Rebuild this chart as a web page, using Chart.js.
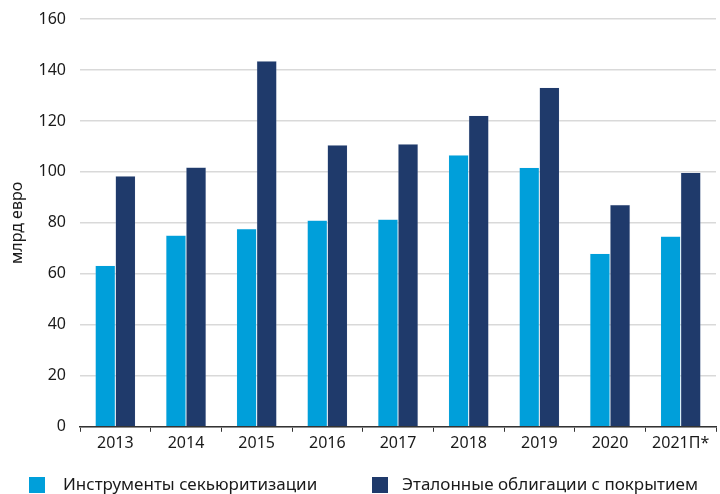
<!DOCTYPE html>
<html>
<head>
<meta charset="utf-8">
<script src="https://cdn.jsdelivr.net/npm/chart.js@4.4.1/dist/chart.umd.min.js"></script>
<style>
  html, body { margin: 0; padding: 0; background: #fff; }
  #wrap { position: relative; width: 720px; height: 494px; }
  #c { position: absolute; left: 0; top: 0; }
  .lg { position: absolute; top: 474px; font-family: "Noto Sans", "Open Sans", sans-serif; font-size: 17px; color: #1a1a1a; white-space: nowrap; line-height: 22px; }
  .lg i { position: absolute; left: 0; top: 3px; width: 16px; height: 16px; }
  .lg span { position: absolute; top: -1px; }
</style>
</head>
<body>
<div id="wrap">
  <canvas id="c" width="720" height="494"></canvas>
  <div class="lg" id="lg1" style="left:29px;"><i></i><span style="left:34px;"></span></div>
  <div class="lg" id="lg2" style="left:372px;"><i></i><span style="left:30px;"></span></div>
</div>
<script>
const categories = ["2013", "2014", "2015", "2016", "2017", "2018", "2019", "2020", "2021П*"];
const seriesNames = ["Инструменты секьюритизации", "Эталонные облигации с покрытием"];
const securitisation = [63.3, 75.2, 77.7, 81.0, 81.4, 106.6, 101.7, 68.0, 74.8];
const coveredBonds = [98.4, 101.8, 143.5, 110.6, 111.0, 122.1, 133.1, 87.1, 99.8];
const yTicks = [0, 20, 40, 60, 80, 100, 120, 140, 160];
const yTitle = "млрд евро";
const colors = ["#009fda", "#1f3a6b"];

const lg = [document.getElementById("lg1"), document.getElementById("lg2")];
lg.forEach((el, i) => {
  el.querySelector("i").style.background = colors[i];
  el.querySelector("span").textContent = seriesNames[i];
});

const font = { family: '"Noto Sans", "Open Sans", sans-serif', size: 16 };

new Chart(document.getElementById("c"), {
  type: "bar",
  data: {
    labels: categories,
    datasets: [
      { label: seriesNames[0], data: securitisation, backgroundColor: colors[0], borderColor: "rgba(200,225,245,0.5)", borderWidth: 0.5, categoryPercentage: 0.57, barPercentage: 1 },
      { label: seriesNames[1], data: coveredBonds, backgroundColor: colors[1], borderColor: "rgba(200,210,230,0.5)", borderWidth: 0.5, categoryPercentage: 0.57, barPercentage: 1 }
    ]
  },
  options: {
    responsive: false,
    animation: false,
    layout: { padding: { top: 19, right: 4, bottom: 39, left: 0 } },
    plugins: { legend: { display: false }, tooltip: { enabled: false } },
    scales: {
      x: {
        grid: { display: true, drawOnChartArea: false, drawTicks: true, tickLength: 5, color: "#333", offset: true },
        border: { display: true, color: "#333", width: 1.5 },
        ticks: { font: font, color: "#1a1a1a", padding: 2 }
      },
      y: {
        min: 0, max: 160,
        afterBuildTicks: s => { s.ticks = yTicks.map(v => ({ value: v })); },
        afterFit: s => { s.width = 80; s.paddingTop = 0; s.paddingBottom = 0; },
        grid: { color: "#d9d9d9", lineWidth: 1.5, drawTicks: false },
        border: { display: false },
        ticks: { font: font, color: "#1a1a1a", padding: 14 },
        title: { display: true, text: yTitle, font: font, color: "#1a1a1a", padding: { top: 8, bottom: 0 } }
      }
    }
  }
});
</script>
</body>
</html>
